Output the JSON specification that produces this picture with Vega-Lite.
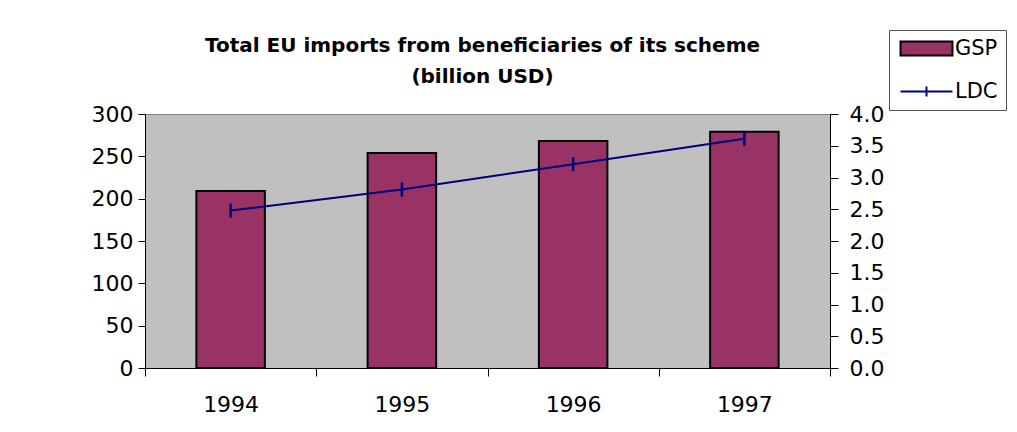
{
  "$schema": "https://vega.github.io/schema/vega-lite/v6.json",
  "width": 685,
  "height": 254,
  "autosize": {"type": "none"},
  "padding": {"left": 145, "top": 114, "right": 187, "bottom": 64},
  "background": "white",
  "config": {
    "view": {"fill": "#C0C0C0", "stroke": "#808080", "strokeWidth": 1},
    "font": "DejaVu Sans"
  },
  "title": {
    "text": ["Total EU imports from beneficiaries of its scheme", "(billion USD)"],
    "font": "DejaVu Sans",
    "fontSize": 20,
    "fontWeight": "bold",
    "lineHeight": 31,
    "anchor": "middle",
    "dx": -5,
    "offset": -57,
    "color": "black"
  },
  "data": {
    "values": [
      {"year": "1994", "GSP": 209, "LDC": 2.48},
      {"year": "1995", "GSP": 254, "LDC": 2.81},
      {"year": "1996", "GSP": 268, "LDC": 3.21},
      {"year": "1997", "GSP": 279, "LDC": 3.61}
    ]
  },
  "encoding": {
    "x": {
      "field": "year",
      "type": "nominal",
      "title": null,
      "scale": {"paddingInner": 0, "paddingOuter": 0},
      "axis": {
        "labelAngle": 0,
        "labelFontSize": 22,
        "labelColor": "black",
        "labelPadding": 18,
        "tickBand": "extent",
        "tickSize": 8,
        "tickColor": "black",
        "domainColor": "black",
        "grid": false
      }
    }
  },
  "layer": [
    {
      "mark": {"type": "bar", "stroke": "black", "strokeWidth": 2, "width": {"band": 0.4}},
      "encoding": {
        "y": {
          "field": "GSP",
          "type": "quantitative",
          "title": null,
          "scale": {"domain": [0, 300], "nice": false},
          "axis": {
            "orient": "left",
            "values": [0, 50, 100, 150, 200, 250, 300],
            "labelFontSize": 22,
            "labelColor": "black",
            "labelPadding": 5,
            "labelOverlap": false,
            "tickSize": 7,
            "tickColor": "black",
            "domainColor": "black",
            "grid": false
          }
        },
        "color": {
          "datum": "GSP",
          "type": "nominal",
          "scale": {"domain": ["GSP", "LDC"], "range": ["#993366", "#000080"]},
          "legend": {
            "title": null,
            "orient": "none",
            "legendX": 744,
            "legendY": -84,
            "padding": 8,
            "rowPadding": 20,
            "labelFontSize": 21,
            "labelColor": "black",
            "labelOffset": 18,
            "symbolOffset": 19,
            "strokeColor": "#555555",
            "fillColor": "white",
            "symbolSize": 196,
            "symbolStrokeWidth": 2,
            "symbolOpacity": 1,
            "symbolType": {"expr": "datum.label === 'GSP' ? 'M-3.71,-1H3.71V1H-3.71Z' : 'M-3.71,0H3.71M0,-0.7V0.7'"},
            "symbolStrokeColor": {"expr": "datum.label === 'GSP' ? 'black' : '#000080'"}
          }
        }
      }
    },
    {
      "encoding": {
        "y": {
          "field": "LDC",
          "type": "quantitative",
          "title": null,
          "scale": {"domain": [0, 4], "nice": false},
          "axis": {
            "orient": "right",
            "values": [0, 0.5, 1, 1.5, 2, 2.5, 3, 3.5, 4],
            "format": ".1f",
            "labelFontSize": 22,
            "labelColor": "black",
            "labelPadding": 11,
            "labelOverlap": false,
            "tickSize": 8,
            "tickColor": "black",
            "domainColor": "black",
            "grid": false
          }
        }
      },
      "layer": [
        {
          "mark": {"type": "line", "strokeWidth": 2, "color": "#000080"}
        },
        {
          "mark": {"type": "point", "shape": "M0,-1V1", "size": 196, "stroke": "#000080", "strokeWidth": 2.5, "filled": false, "opacity": 1}
        }
      ]
    }
  ],
  "resolve": {"scale": {"y": "independent"}}
}
